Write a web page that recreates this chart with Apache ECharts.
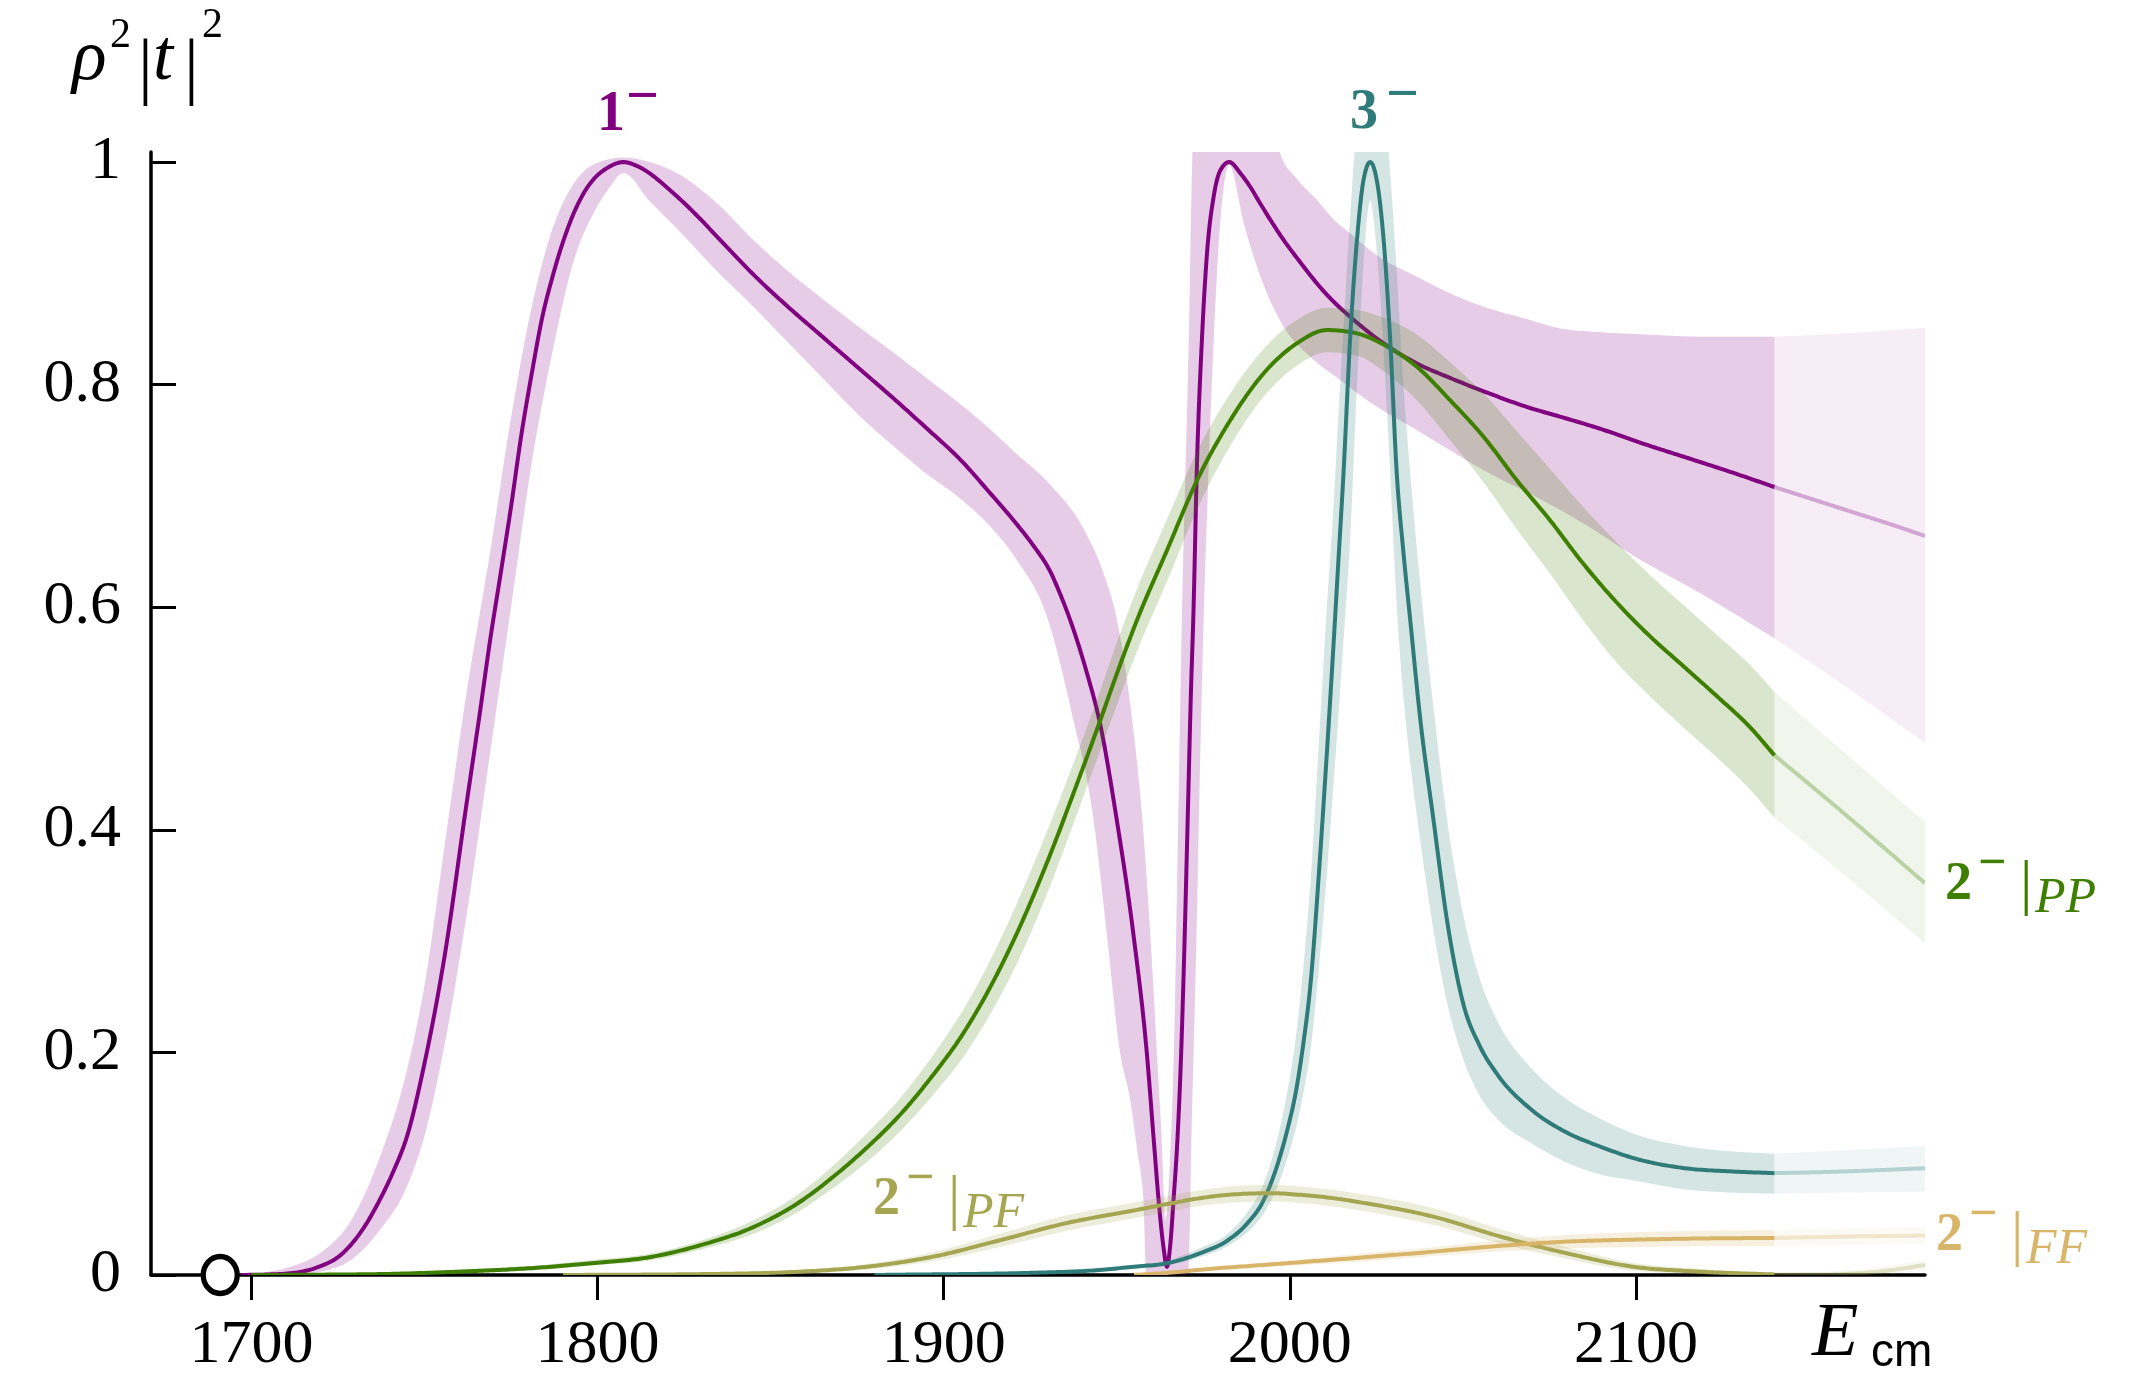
<!DOCTYPE html>
<html>
<head>
<meta charset="utf-8">
<script src="https://cdn.jsdelivr.net/npm/echarts@6/dist/echarts.min.js"></script>
<style>
  html, body { margin: 0; padding: 0; background: #fff; }
  #chart { width: 2152px; height: 1382px; }
</style>
</head>
<body>
<div id="chart"></div>
<script>
// Axis ticks
const energyTicks = [1700, 1800, 1900, 2000, 2100];
const rhoTicks = [0, 0.2, 0.4, 0.6, 0.8, 1];
const threshold = 1691;      // open circle on the energy axis
const fadeFrom = 2140;       // curves are drawn faded beyond this energy

// 1^- wave: central curve
const p1E = [1697,1705,1712,1720,1725,1729,1733,1737,1741,1745,1750,1756,1762,1766,1769,1772,1775,1778,1781,1784,1787,1790,1793,1796,1799,1803,1807.5,1811,1815,1819,1823,1829,1834.5,1840,1845,1855,1865,1875,1885,1895,1905,1913,1921,1926,1930.8,1933.5,1936.6,1941,1945.2,1950,1954.9,1958.7,1960.7,1962.1,1963.5,1964.5,1965.4,1966.4,1967.5,1968.5,1969.5,1970.5,1971.4,1972.2,1973.1,1974.6,1976,1978,1980,1982.5,1985.7,1988.5,1991.4,1995,1998.2,2003,2007.8,2012.5,2017.4,2022,2027.1,2036.7,2046.3,2056,2069.4,2077.2,2090,2103,2116,2128.8,2140,2160,2176,2183.5];
const p1 = [0,0.0005,0.0018,0.008,0.016,0.028,0.045,0.067,0.093,0.125,0.19,0.29,0.42,0.505,0.571,0.63,0.69,0.755,0.81,0.86,0.897,0.928,0.953,0.972,0.985,0.995,1.0,0.997,0.99,0.98,0.969,0.951,0.933,0.915,0.899,0.87,0.843,0.816,0.789,0.761,0.732,0.704,0.675,0.655,0.632,0.613,0.588,0.545,0.495,0.409,0.304,0.199,0.121,0.067,0.025,0.0075,0.025,0.067,0.12,0.19,0.29,0.41,0.52,0.6,0.72,0.84,0.915,0.969,0.993,1.0,0.99,0.978,0.963,0.945,0.93,0.91,0.891,0.875,0.861,0.849,0.837,0.819,0.806,0.794,0.779,0.772,0.76,0.746,0.733,0.72,0.708,0.688,0.672,0.664];
// 1^- wave: uncertainty band
const p1LoE = [1697,1712,1720,1729,1737,1745,1750,1756,1762,1769,1775,1781,1787,1793,1799,1803,1807.5,1815,1823,1834.5,1845,1855,1865,1875,1885,1895,1905,1913,1921,1930,1937,1943.3,1947,1951,1953.9,1956,1957.7,1958.5,1970.6,1971.7,1973,1974,1975.1,1976.5,1978,1980,1982.5,1986.7,1990.5,1998.2,2005.9,2014.6,2022.3,2036.7,2046.3,2056,2069.4,2085,2100,2120,2140,2160,2183.5];
const p1Lo = [0,0,0.003,0.014,0.04,0.08,0.125,0.21,0.32,0.47,0.6,0.73,0.83,0.91,0.955,0.975,0.99,0.965,0.94,0.902,0.87,0.838,0.806,0.774,0.746,0.72,0.697,0.674,0.643,0.59,0.505,0.409,0.31,0.199,0.157,0.11,0.067,0,0,0.14,0.3,0.45,0.588,0.72,0.84,0.95,0.997,0.945,0.906,0.852,0.825,0.804,0.786,0.759,0.741,0.723,0.702,0.675,0.645,0.61,0.572,0.53,0.478];
const p1HiE = [1697,1705,1712,1720,1729,1737,1745,1750,1756,1762,1769,1775,1781,1787,1793,1799,1807.5,1815,1823,1834.5,1845,1855,1865,1875,1885,1895,1905,1913,1921,1930.8,1940.5,1946,1950.1,1954,1957.4,1960,1961.6,1963,1964,1965,1965.6,1966.5,1967.7,1968.8,1970.8,1972,1973,1995,1997.2,2002,2007.8,2012.8,2017.4,2025.7,2036.7,2046.3,2056,2069.4,2077.3,2090,2103.1,2120,2140,2160,2183.5];
const p1Hi = [0.001,0.003,0.008,0.02,0.05,0.105,0.185,0.26,0.39,0.52,0.65,0.77,0.87,0.94,0.98,0.998,1.004,1.0,0.99,0.963,0.93,0.902,0.877,0.853,0.83,0.806,0.782,0.761,0.738,0.71,0.67,0.632,0.588,0.51,0.409,0.29,0.2,0.12,0.05,0.08,0.12,0.2,0.4,0.588,0.84,1.02,1.05,1.05,1.008,0.985,0.966,0.948,0.936,0.915,0.897,0.882,0.87,0.858,0.851,0.847,0.845,0.843,0.843,0.846,0.851];

// 2^- wave, PP component
const ppE = [1700,1720,1740,1760,1780,1800,1815,1830,1845,1858.6,1868,1878,1888,1897,1905,1913,1921,1930.8,1938,1945.2,1950,1955.8,1964.5,1973.2,1982.8,1992.4,2002,2010.7,2019.4,2027.1,2036.7,2046.3,2056,2065.6,2075.2,2084.8,2094.5,2104,2113.7,2123.4,2133,2140,2160,2183.5];
const pp = [0,0.0003,0.001,0.003,0.006,0.011,0.016,0.027,0.043,0.066,0.088,0.115,0.146,0.18,0.214,0.256,0.306,0.378,0.437,0.498,0.54,0.588,0.651,0.714,0.768,0.81,0.837,0.849,0.846,0.836,0.816,0.786,0.753,0.714,0.678,0.639,0.604,0.574,0.547,0.52,0.492,0.467,0.415,0.352];
const ppLo = [0,0,0,0.002,0.004,0.009,0.013,0.023,0.037,0.058,0.078,0.102,0.131,0.162,0.193,0.232,0.279,0.35,0.41,0.471,0.512,0.56,0.623,0.688,0.745,0.789,0.817,0.829,0.826,0.812,0.786,0.75,0.712,0.67,0.63,0.588,0.55,0.52,0.492,0.465,0.436,0.411,0.36,0.298];
const ppHi = [0.0005,0.001,0.002,0.005,0.008,0.014,0.019,0.031,0.049,0.074,0.098,0.128,0.161,0.198,0.235,0.28,0.333,0.406,0.464,0.525,0.568,0.616,0.679,0.74,0.792,0.832,0.858,0.869,0.867,0.86,0.845,0.82,0.792,0.758,0.724,0.69,0.658,0.629,0.602,0.575,0.548,0.524,0.47,0.407];

// 3^- wave
const f3E = [1880,1926,1945,1955,1964.5,1974,1982,1987.6,1992.4,1996.2,1999,2002,2004,2005.9,2008.8,2010.7,2012.6,2014,2015.5,2017.4,2019.4,2021.3,2023.2,2025.1,2027.1,2029,2030.9,2032.8,2034.8,2037.7,2041.5,2045.4,2050,2055,2060,2070,2080,2090,2099.3,2114,2128,2140,2160,2183.5];
const f3 = [0,0.002,0.0045,0.0075,0.0105,0.0195,0.031,0.046,0.067,0.097,0.127,0.169,0.21,0.259,0.379,0.469,0.565,0.64,0.72,0.84,0.93,0.984,1.0,0.984,0.93,0.84,0.72,0.65,0.588,0.499,0.409,0.319,0.245,0.205,0.18,0.148,0.128,0.115,0.105,0.096,0.093,0.0915,0.093,0.096];
const f3Lo = [0,0.001,0.003,0.006,0.009,0.016,0.026,0.038,0.055,0.078,0.102,0.135,0.165,0.2,0.29,0.36,0.44,0.5,0.57,0.66,0.8,0.91,0.965,0.92,0.83,0.72,0.6,0.52,0.46,0.39,0.31,0.245,0.195,0.16,0.14,0.118,0.101,0.09,0.085,0.077,0.074,0.073,0.074,0.075];
const f3Hi = [0.0005,0.003,0.006,0.009,0.013,0.024,0.037,0.056,0.082,0.12,0.16,0.22,0.28,0.35,0.5,0.6,0.69,0.77,0.85,0.95,1.03,1.05,1.05,1.05,1.05,0.99,0.9,0.8,0.72,0.62,0.51,0.41,0.325,0.265,0.228,0.185,0.158,0.14,0.127,0.116,0.111,0.109,0.112,0.116];

// 2^- wave, PF component
const pfE = [1790,1830,1858.6,1878,1897,1916,1936,1955,1965,1974,1984,1995,2003,2010,2022,2041.5,2061,2080,2099,2118.5,2140,2155,2170,2183.5];
const pf = [0,0.0008,0.003,0.0075,0.0165,0.031,0.047,0.058,0.064,0.069,0.0725,0.0735,0.072,0.07,0.0644,0.0524,0.0344,0.0195,0.0075,0.003,0.0005,0.0005,0.003,0.009];
const pfLo = [0,0.0003,0.0015,0.005,0.0125,0.025,0.04,0.051,0.057,0.062,0.065,0.066,0.0645,0.0625,0.057,0.045,0.028,0.0145,0.004,0.001,0,0,0.0005,0.004];
const pfHi = [0.0005,0.0013,0.0045,0.01,0.0205,0.037,0.054,0.065,0.071,0.076,0.08,0.081,0.0795,0.0775,0.072,0.06,0.041,0.025,0.011,0.0055,0.0015,0.003,0.007,0.0135];

// 2^- wave, FF component
const ffE = [1955,1965,1975,1990,2003,2020,2041.5,2060,2080,2100,2118.5,2140,2160,2183.5];
const ff = [0,0.002,0.005,0.0085,0.0115,0.0155,0.021,0.026,0.03,0.0318,0.0328,0.0333,0.0345,0.0355];
const ffLo = [0,0.001,0.0035,0.0065,0.009,0.012,0.017,0.021,0.024,0.025,0.0258,0.026,0.027,0.028];
const ffHi = [0.001,0.003,0.0065,0.0105,0.014,0.019,0.025,0.031,0.036,0.0385,0.0398,0.0405,0.042,0.043];

// ---------------------------------------------------------------
const COLORS = {
  p1: '#800080',
  pp: '#3f7f00',
  f3: '#2f7b79',
  pf: '#a5a552',
  ff: '#d9b56a'
};

function hexToRgba(hex, a) {
  const n = parseInt(hex.slice(1), 16);
  return 'rgba(' + ((n >> 16) & 255) + ',' + ((n >> 8) & 255) + ',' + (n & 255) + ',' + a + ')';
}

function pairs(xs, ys) { return xs.map((x, i) => [x, ys[i]]); }
function inRange(pts, from, to) { return pts.filter(p => p[0] >= from && p[0] <= to); }

// Monotone cubic through pixel points (x increasing), flattened to a dense polyline
function smoothPixels(pts) {
  const n = pts.length;
  if (n < 3) return pts.slice();
  const h = [], s = [], m = new Array(n);
  for (let i = 0; i < n - 1; i++) {
    h[i] = pts[i + 1][0] - pts[i][0];
    s[i] = h[i] > 0 ? (pts[i + 1][1] - pts[i][1]) / h[i] : 0;
  }
  for (let i = 1; i < n - 1; i++) {
    const h0 = h[i - 1], h1 = h[i], s0 = s[i - 1], s1 = s[i];
    const p = (s0 * h1 + s1 * h0) / (h0 + h1 || 1);
    m[i] = (Math.sign(s0) + Math.sign(s1)) * Math.min(Math.abs(s0), Math.abs(s1), 0.5 * Math.abs(p)) || 0;
  }
  m[0] = s[0];
  m[n - 1] = s[n - 2];
  const out = [pts[0]];
  for (let i = 0; i < n - 1; i++) {
    const [x0, y0] = pts[i], [x1, y1] = pts[i + 1];
    const d = h[i] / 3;
    const c1 = [x0 + d, y0 + m[i] * d], c2 = [x1 - d, y1 - m[i + 1] * d];
    const len = Math.hypot(x1 - x0, y1 - y0);
    const steps = Math.max(2, Math.ceil(len / 3));
    for (let k = 1; k <= steps; k++) {
      const t = k / steps, u = 1 - t;
      out.push([
        u * u * u * x0 + 3 * u * u * t * c1[0] + 3 * u * t * t * c2[0] + t * t * t * x1,
        u * u * u * y0 + 3 * u * u * t * c1[1] + 3 * u * t * t * c2[1] + t * t * t * y1
      ]);
    }
  }
  return out;
}

// Filled band between a lower and an upper edge, limited to [from, to]
function bandSeries(loE, lo, hiE, hi, from, to, fill) {
  const lower = inRange(pairs(loE, lo), from, to);
  const upper = inRange(pairs(hiE, hi), from, to);
  return {
    type: 'custom',
    coordinateSystem: 'cartesian2d',
    clip: true,
    silent: true,
    encode: { x: 0, y: 1 },
    data: lower.concat(upper),
    renderItem: function (params, api) {
      if (params.dataIndex !== 0) return null;
      const a = smoothPixels(lower.map(p => api.coord(p)));
      const b = smoothPixels(upper.map(p => api.coord(p))).reverse();
      return { type: 'polygon', shape: { points: a.concat(b) }, style: { fill: fill } };
    }
  };
}

// Central curve drawn as a smooth stroke through the data points
function lineSeries(data, color, opacity) {
  return {
    type: 'custom',
    coordinateSystem: 'cartesian2d',
    clip: true,
    silent: true,
    encode: { x: 0, y: 1 },
    data: data,
    renderItem: function (params, api) {
      if (params.dataIndex !== 0) return null;
      const pts = smoothPixels(data.map(p => api.coord(p)));
      return {
        type: 'polyline',
        shape: { points: pts },
        style: { stroke: color, lineWidth: 4, fill: null, opacity: opacity, lineJoin: 'round', lineCap: 'butt' }
      };
    }
  };
}

function curveSeries(key, E, vals, loE, lo, hiE, hi) {
  const col = COLORS[key];
  const xMin = E[0], xMax = E[E.length - 1];
  const line = pairs(E, vals);
  return [
    bandSeries(loE, lo, hiE, hi, xMin, fadeFrom, hexToRgba(col, 0.2)),
    bandSeries(loE, lo, hiE, hi, fadeFrom, xMax, hexToRgba(col, 0.07)),
    lineSeries(inRange(line, xMin, fadeFrom), col, 1),
    lineSeries(inRange(line, fadeFrom, xMax), col, 0.3)
  ];
}

const series = [].concat(
  curveSeries('p1', p1E, p1, p1LoE, p1Lo, p1HiE, p1Hi),
  curveSeries('pp', ppE, pp, ppE, ppLo, ppE, ppHi),
  curveSeries('f3', f3E, f3, f3E, f3Lo, f3E, f3Hi),
  curveSeries('pf', pfE, pf, pfE, pfLo, pfE, pfHi),
  curveSeries('ff', ffE, ff, ffE, ffLo, ffE, ffHi),
  [{
    type: 'scatter',
    data: [[threshold, 0]],
    symbol: 'circle',
    symbolSize: [34, 37],
    clip: false,
    silent: true,
    z: 10,
    itemStyle: { color: '#fff', borderColor: '#000', borderWidth: 5.5, opacity: 1 }
  }]
);

// Text annotations
const SERIF = '"Liberation Serif", "DejaVu Serif", serif';
const SANS = '"Liberation Sans", "DejaVu Sans", sans-serif';
function txt(x, y, text, size, color, opts) {
  opts = opts || {};
  return {
    type: 'text', x: x, y: y, z: 100, silent: true,
    style: {
      text: text,
      fill: color,
      font: (opts.italic ? 'italic ' : '') + (opts.bold ? 'bold ' : '') + size + 'px ' + (opts.family || SERIF),
      textAlign: 'left',
      textVerticalAlign: 'middle',
      verticalAlign: 'middle'
    }
  };
}

function waveLabel(x, y, color, sub) {
  // "2⁻|XX" label; x,y locate the bold digit
  return [
    txt(x, y, '2', 54, color, { bold: true }),
    txt(x + 33, y - 20, '\u2212', 50, color, { bold: true }),
    txt(x + 75, y + 2, '|', 62, color),
    txt(x + 90, y + 14, sub, 50, color, { italic: true })
  ];
}

const graphic = [].concat(
  [
    txt(72, 60, '\u03C1', 72, '#000', { italic: true }),
    txt(110, 36, '2', 42, '#000'),
    txt(138, 71, '|', 74, '#000'),
    txt(153, 60, 't', 72, '#000', { italic: true }),
    txt(184, 71, '|', 74, '#000'),
    txt(202, 26, '2', 42, '#000'),

    txt(597, 116, '1', 56, COLORS.p1, { bold: true }),
    txt(626, 99, '\u2212', 58, COLORS.p1, { bold: true }),
    txt(1350, 114, '3', 56, COLORS.f3, { bold: true }),
    txt(1386, 97, '\u2212', 58, COLORS.f3, { bold: true }),

    txt(1812, 1335, 'E', 76, '#000', { italic: true }),
    txt(1871, 1353, 'cm', 46, '#000', { family: SANS })
  ],
  waveLabel(1945, 885, COLORS.pp, 'PP'),
  waveLabel(873, 1200, COLORS.pf, 'PF'),
  waveLabel(1936, 1236, COLORS.ff, 'FF')
);

const option = {
  animation: false,
  backgroundColor: '#ffffff',
  grid: { left: 151, top: 152, width: 1774, height: 1123, containLabel: false, outerBoundsMode: 'none' },
  xAxis: {
    type: 'value',
    min: 1671,
    max: 2183.5,
    axisLine: { show: true, onZero: false, lineStyle: { color: '#000', width: 3.5 } },
    axisTick: { show: true, customValues: energyTicks, length: 25, inside: false, lineStyle: { color: '#000', width: 3 } },
    axisLabel: {
      show: true, customValues: energyTicks, margin: 40, color: '#000', fontFamily: SERIF, fontSize: 62,
      formatter: v => String(Math.round(v))
    },
    splitLine: { show: false }
  },
  yAxis: {
    type: 'value',
    min: 0,
    max: 1.009,
    axisLine: { show: true, onZero: false, lineStyle: { color: '#000', width: 3.5 } },
    axisTick: { show: true, customValues: rhoTicks, length: 25, inside: true, lineStyle: { color: '#000', width: 3 } },
    axisLabel: {
      show: true, customValues: rhoTicks, margin: 30, color: '#000', fontFamily: SERIF, fontSize: 62,
      formatter: v => String(Math.round(v * 10) / 10)
    },
    splitLine: { show: false }
  },
  series: series,
  graphic: graphic
};

const chart = echarts.init(document.getElementById('chart'), null, { renderer: 'canvas' });
chart.setOption(option);
</script>
</body>
</html>
